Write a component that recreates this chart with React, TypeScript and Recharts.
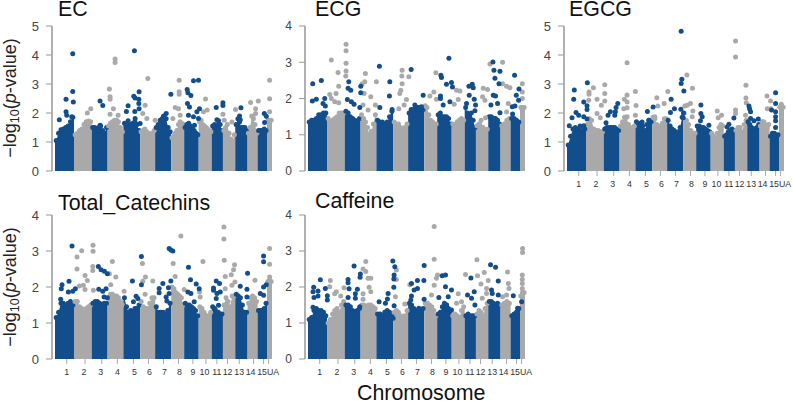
import { Area, ComposedChart, Scatter, XAxis, YAxis } from 'recharts';

const FONT = '"Liberation Sans", Arial, sans-serif';
const BLUE = '#124d8c';
const GRAY = '#a9a9a9';

// genome position runs 0..216.7 across the 16 chromosome blocks
const chromEdges = [0, 19, 36.7, 52.5, 68.3, 85, 100, 116, 129, 143.5, 156.5, 167.7, 180, 192.3, 202.3, 211.7, 216.7];
const chromLabels = ['1', '2', '3', '4', '5', '6', '7', '8', '9', '10', '11', '12', '13', '14', '15', 'UA'];
const chromTicks = [11.7, 30, 46.7, 62.3, 78.3, 93.3, 108.3, 123.3, 137.7, 150.7, 161.7, 172.3, 184, 198.3, 208.3, 213.3];
const labelNudge = [0, -1, -1, 0, 1, 1, 1, 1, 0, -1.5, 0, 0, 0, -3, -1.5, 4.5];

const ticksToFive = [0, 1, 2, 3, 4, 5];
const ticksToFour = [0, 1, 2, 3, 4];

// top of the solid band of points, per chromosome
const ecTops = [
  [1.05, 1.3, 1.42, 1.45, 1.5, 1.55, 1.7, 1.85],
  [1.25, 1.3, 1.4, 1.45, 1.6, 1.7, 1.72, 1.7],
  [1.5, 1.5, 1.45, 1.5, 1.55, 1.4, 1.3, 1.5],
  [1.55, 1.65, 1.7, 1.75, 1.75, 1.7, 1.5, 1.35],
  [1.65, 1.6, 1.6, 1.6, 1.65, 1.7, 1.6, 1.4],
  [1.35, 1.4, 1.45, 1.35, 1.3, 1.25, 1.3, 1.4],
  [1.5, 1.6, 1.75, 1.8, 1.9, 1.8, 1.5, 1.35],
  [1.15, 1.2, 1.3, 1.4, 1.6, 1.7, 1.65, 1.6],
  [1.5, 1.6, 1.65, 1.55, 1.5, 1.4, 1.3, 1.25],
  [1.7, 1.75, 1.6, 1.55, 1.5, 1.45, 1.4, 1.35],
  [1.55, 1.6, 1.5, 1.6, 1.6, 1.4],
  [1.4, 1.5, 1.6, 1.3, 1.1, 1.0, 1.25],
  [1.6, 1.8, 1.7, 1.5, 1.5, 1.5, 1.4],
  [1.3, 1.5, 1.9, 1.8, 1.6, 1.3],
  [1.4, 1.4, 1.4, 1.45, 1.4],
  [1.75, 1.75, 1.75],
];
const ecBlue = [
  [17.7, 4.04], [17.7, 2.74], [11, 2.47], [18.3, 2.38], [4.3, 1.77], [11, 2.04], [11.7, 1.92], [16.7, 1.87],
  [45, 2.41], [47.7, 2.26], [45, 1.58], [79.3, 4.15], [84, 2.73], [78.7, 2.58], [80, 2.52], [83.7, 2.47],
  [83.7, 2.33], [84, 2.15], [73, 2.25], [71.3, 2.05], [79.7, 2.05], [80, 1.81], [73, 1.73], [85, 1.64],
  [115.7, 2.65], [111, 1.98], [108.3, 1.89], [132, 2.81], [132.7, 2.7], [135.7, 2.6], [138.3, 3.11], [143.3, 3.13],
  [132.3, 2.33], [134.3, 2.21], [144.3, 2.15], [141.7, 2.04], [133.3, 1.92], [138.3, 1.87], [143.3, 1.81], [139.3, 1.58],
  [161, 2.19], [167.7, 2.35], [167.7, 2.26], [161.7, 1.77], [163.3, 1.73], [185.7, 2.18], [184.3, 1.9], [185, 1.77],
  [209, 1.98], [211, 1.89], [209.3, 1.67],
];
const ecGray = [
  [60, 3.86], [60, 3.74], [54.3, 2.83], [55, 2.56], [55, 2.47], [58.3, 2.15], [55, 1.96], [63, 1.92],
  [35.7, 2.15], [32.3, 2.0], [92.7, 3.19], [90, 2.27], [87.7, 1.98], [91.7, 1.81], [100, 1.75], [124, 3.13],
  [124, 2.73], [124, 2.65], [120, 2.19], [123.3, 2.15], [117.7, 1.81], [125, 1.92], [150.3, 2.48], [152, 2.1],
  [148.3, 2.04], [167.7, 1.96], [169, 1.75], [176.7, 1.69], [180.3, 2.12], [195.3, 2.36], [203, 2.41], [200.3, 2.15],
  [200.3, 1.98], [197.7, 1.87], [214.3, 3.13], [214.3, 2.49], [214.3, 2.04],
];

const ecgTops = [
  [1.35, 1.4, 1.4, 1.45, 1.55, 1.55, 1.6, 1.6],
  [1.45, 1.35, 1.4, 1.45, 1.5, 1.6, 1.6, 1.6],
  [1.65, 1.6, 1.5, 1.45, 1.4, 1.35, 1.45],
  [1.55, 1.45, 1.35, 1.2, 1.0, 1.1, 1.3, 1.55],
  [1.4, 1.35, 1.35, 1.3, 1.35, 1.5, 1.65],
  [1.35, 1.3, 1.3, 1.2, 1.15, 1.2, 1.3],
  [1.6, 1.7, 1.7, 1.7, 1.75, 1.75, 1.7, 1.7],
  [1.8, 1.75, 1.55, 1.4, 1.35, 1.3, 1.3],
  [1.55, 1.6, 1.5, 1.5, 1.5, 1.45, 1.3],
  [1.3, 1.25, 1.35, 1.4, 1.45, 1.4],
  [1.75, 1.6, 1.55, 1.6, 1.4, 1.2],
  [1.25, 1.3, 1.4, 1.2, 1.1, 1.15],
  [1.5, 1.5, 1.45, 1.45, 1.4, 1.3],
  [1.25, 1.3, 1.4, 1.45],
  [1.45, 1.45, 1.4, 1.35],
  [1.75, 1.75, 1.75],
];
const ecgBlue = [
  [4.7, 2.41], [13.3, 2.5], [4.3, 1.93], [8.3, 1.98], [16.7, 2.0], [15, 1.86], [17.3, 1.79], [40.7, 2.46],
  [40, 2.28], [42.7, 2.23], [39.3, 1.97], [43.3, 1.91], [46, 1.84], [52.7, 2.34], [52.7, 2.16], [51.7, 1.75],
  [71.3, 2.89], [81.7, 2.46], [81.3, 2.07], [71.7, 1.75], [84, 1.7], [103, 2.8], [115, 2.09], [106.7, 1.82],
  [113.3, 1.77], [140.7, 3.11], [132.7, 2.64], [133.3, 2.58], [143.3, 2.44], [138.3, 2.39], [144.3, 2.32], [132.3, 2.07],
  [132.3, 2.0], [141.7, 1.91], [135, 1.82], [160.7, 2.34], [164, 2.39], [165, 2.3], [161, 2.09], [166, 1.98],
  [158.3, 1.86], [167.3, 1.82], [166.7, 1.66], [184.7, 3.01], [185.7, 2.78], [191.7, 2.75], [186.7, 2.56], [190.7, 2.41],
  [185, 2.09], [187.3, 2.07], [189.3, 1.86], [182.7, 1.82], [191.7, 1.61], [206.3, 2.64], [210.7, 2.26], [208, 2.09],
  [210.3, 1.95], [206.7, 1.79], [204, 1.77], [204.3, 1.57],
];
const ecgGray = [
  [23.3, 3.06], [30, 2.72], [30.7, 2.34], [28, 2.14], [21.7, 2.11], [23.3, 2.0], [26.7, 1.91], [30.7, 1.88],
  [38, 3.5], [38, 3.32], [38, 2.97], [38, 2.76], [37.7, 2.62], [57.3, 2.69], [56.7, 2.46], [54, 2.4],
  [56, 2.14], [62.7, 2.05], [68.3, 2.46], [67.3, 1.82], [55, 1.82], [60, 1.68], [94, 2.78], [100.7, 2.6],
  [93.7, 2.62], [94, 2.41], [92.7, 2.23], [91.7, 2.14], [98.3, 1.97], [90.7, 1.72], [96, 1.82], [127.7, 2.71],
  [125.7, 2.18], [121.7, 2.07], [128.3, 1.98], [148.3, 2.23], [151.7, 2.21], [150, 1.97], [146, 1.84], [175, 2.28],
  [179.3, 2.25], [174.3, 2.05], [176.7, 1.95], [177.3, 1.47], [181.7, 2.95], [194.3, 3.0], [194.3, 2.41], [198.3, 2.34],
  [201.7, 2.3], [200, 1.86], [198.3, 1.63], [214, 2.41], [214, 2.18], [214, 2.0],
];

const egcgTops = [
  [0.9, 1.2, 1.45, 1.5, 1.45, 1.55, 1.4, 1.45],
  [1.6, 1.8, 1.75, 1.45, 1.4, 1.4, 1.35, 1.35],
  [1.45, 1.5, 1.5, 1.5, 1.5, 1.5, 1.45, 1.4],
  [1.55, 1.7, 1.85, 1.85, 1.6, 1.5, 1.4, 1.55],
  [1.7, 1.65, 1.6, 1.55, 1.4, 1.6, 1.75, 1.7],
  [1.85, 1.8, 1.6, 1.55, 1.5, 1.65, 1.8, 1.8],
  [1.75, 1.55, 1.45, 1.4, 1.3, 1.35, 1.5, 1.85],
  [2.0, 1.75, 1.6, 1.4, 1.3, 1.3],
  [1.55, 1.55, 1.5, 1.5, 1.45, 1.4, 1.35],
  [1.3, 1.2, 1.1, 1.3, 1.5, 1.6, 1.55],
  [1.2, 1.25, 1.35, 1.4, 1.45, 1.4],
  [1.4, 1.5, 1.5, 1.35, 1.6, 1.75],
  [1.7, 1.6, 1.5, 1.45, 1.45, 1.5, 1.6],
  [1.55, 1.7, 1.7, 1.6, 1.5, 1.6],
  [1.2, 1.3, 1.3, 1.25, 1.25],
  [2.2, 2.2, 2.2],
];
const egcgBlue = [
  [114, 4.82], [114.7, 3.16], [114, 3.02], [116.7, 2.76], [104, 2.47], [107.3, 2.15], [113.7, 2.13], [116.3, 2.0],
  [103.3, 2.02], [116, 1.84], [20.3, 3.04], [7.3, 2.79], [6.7, 2.47], [16.7, 2.38], [20, 2.25], [20, 2.12],
  [9, 2.02], [5, 1.84], [11.7, 1.92], [16.7, 1.87], [2.3, 1.56], [20, 1.79], [16.7, 1.56], [50.7, 2.33],
  [49, 2.19], [48.3, 2.04], [43.3, 2.04], [41, 1.92], [39, 1.66], [47.7, 1.92], [80.3, 2.05], [86, 2.21],
  [81.7, 1.75], [75, 1.69], [133.7, 2.28], [133.7, 1.98], [135, 1.87], [133.3, 1.73], [141.7, 1.58], [161.7, 1.61],
  [166.7, 1.83], [160, 1.52], [181.7, 2.24], [182.3, 2.15], [183.3, 2.04], [183.3, 1.81], [191, 1.79], [186.7, 1.73],
  [208.3, 2.7], [208.3, 2.33], [204.3, 2.1], [208.3, 2.04], [208.3, 1.87], [208.3, 1.73], [208.3, 1.5],
];
const egcgGray = [
  [60, 3.73], [22, 2.65], [22, 2.72], [26.3, 2.87], [21.7, 2.44], [30, 2.47], [34.3, 2.27], [37.7, 2.97],
  [37.7, 2.67], [37.7, 2.41], [30, 1.98], [33.3, 1.84], [60, 2.62], [57.3, 2.47], [60, 2.38], [60, 2.18],
  [56.7, 2.15], [60, 1.87], [68.3, 2.74], [69, 2.26], [68.3, 1.92], [89.7, 2.53], [97, 2.33], [90.7, 2.24],
  [100.7, 2.74], [87.7, 1.87], [119.7, 3.31], [125.3, 2.85], [123.3, 2.33], [120, 2.27], [117.7, 2.24], [125.7, 2.07],
  [125, 1.87], [150, 2.07], [154.3, 1.92], [151, 1.84], [168.3, 4.48], [168.3, 3.93], [168.3, 2.1], [168.3, 1.98],
  [178.7, 2.96], [178.7, 2.52], [179, 2.35], [178.3, 1.92], [199.7, 2.59], [203.3, 2.41], [200, 2.15], [203.3, 2.15],
  [214, 2.3], [214, 2.19], [214, 1.98], [214, 1.64],
];

const totalTops = [
  [1.15, 1.3, 1.55, 1.55, 1.5, 1.55, 1.6, 1.5],
  [1.6, 1.6, 1.45, 1.4, 1.35, 1.4, 1.45, 1.5],
  [1.55, 1.6, 1.6, 1.55, 1.5, 1.55, 1.55],
  [1.7, 1.8, 1.8, 1.75, 1.75, 1.7, 1.6, 1.5],
  [1.7, 1.45, 1.3, 1.35, 1.3, 1.4, 1.4, 1.5],
  [1.6, 1.45, 1.4, 1.4, 1.55, 1.7, 1.7],
  [1.45, 1.3, 1.3, 1.3, 1.25, 1.35, 1.55],
  [2.0, 1.95, 1.85, 1.8, 1.75, 1.7, 1.5],
  [1.55, 1.5, 1.5, 1.45, 1.4, 1.35, 1.2],
  [1.45, 1.4, 1.3, 1.2, 1.2, 1.3],
  [1.45, 1.4, 1.3, 1.3, 1.25, 1.25],
  [1.5, 1.7, 1.6, 1.45, 1.75, 1.75],
  [1.8, 1.75, 1.7, 1.5, 1.3, 1.3],
  [1.55, 1.7, 1.75, 1.7, 1.6],
  [1.35, 1.35, 1.35, 1.4, 1.55],
  [2.15, 2.15, 2.15],
];
const totalBlue = [
  [17, 3.14], [7, 2.06], [6.3, 1.95], [14, 2.16], [13.3, 1.86], [17.7, 1.88], [20.3, 1.95], [5.7, 1.66],
  [43.3, 2.57], [46, 2.48], [49.3, 2.44], [52.3, 2.37], [43.7, 1.94], [47.7, 1.88], [51, 1.95], [49, 1.72],
  [52.3, 1.7], [86.3, 2.85], [77.3, 2.17], [86.3, 2.06], [81, 1.74], [82.7, 1.68], [78.3, 1.59], [114, 3.07],
  [115.7, 3.03], [117.7, 3.0], [115.7, 2.17], [107.7, 2.1], [113.3, 1.98], [104, 1.96], [104, 1.84], [114, 1.82],
  [111, 1.72], [111.7, 1.61], [133.3, 2.55], [135.3, 2.2], [141, 2.08], [144, 1.95], [132.7, 1.86], [135.7, 1.82],
  [139, 1.59], [161, 2.17], [164.3, 2.1], [158.3, 1.97], [158.3, 1.91], [161.7, 1.82], [165, 1.86], [161, 1.68],
  [163.3, 1.49], [160, 1.37], [192.3, 2.38], [185, 2.02], [191.7, 1.94], [191.7, 1.72], [208.3, 2.86], [208.3, 2.7],
  [211, 2.06], [208.3, 2.0], [205, 1.82], [208.3, 1.77], [206.7, 1.35],
];
const totalGray = [
  [38, 3.16], [38, 2.99], [26.7, 3.01], [22, 2.83], [22, 2.5], [30, 2.32], [32.3, 2.18], [37.7, 2.57],
  [37.7, 2.46], [24.3, 2.03], [28.3, 2.05], [30, 1.93], [38.3, 1.91], [57.3, 2.71], [54.3, 2.37], [60.7, 2.28],
  [55.7, 2.06], [69, 1.88], [87.3, 2.65], [90.3, 2.28], [87.7, 2.16], [97.7, 2.17], [90, 1.8], [125.7, 3.42],
  [118, 2.65], [120, 2.29], [129, 1.93], [147.7, 2.71], [144.3, 1.86], [145, 1.72], [168.7, 3.67], [168.7, 3.33],
  [169, 2.74], [170, 2.29], [179.3, 2.62], [178.3, 2.48], [176, 2.34], [179.7, 2.14], [176.7, 2.05], [170, 1.95],
  [199.7, 2.19], [214.3, 3.07], [214.3, 2.63], [214.3, 2.28], [214.3, 2.18],
];

const caffeineTops = [
  [1.1, 1.15, 1.35, 1.4, 1.35, 1.35, 1.3, 1.2],
  [1.0, 1.1, 1.25, 1.35, 1.4, 1.3, 1.5, 1.6],
  [1.5, 1.5, 1.45, 1.35, 1.3, 1.35, 1.4],
  [1.5, 1.5, 1.45, 1.5, 1.5, 1.45, 1.4],
  [1.25, 1.25, 1.2, 1.3, 1.35, 1.3, 1.25],
  [1.3, 1.35, 1.3, 1.2, 1.1, 1.2, 1.35],
  [1.55, 1.5, 1.4, 1.35, 1.3, 1.3, 1.4],
  [1.55, 1.55, 1.5, 1.45, 1.35, 1.2],
  [1.25, 1.3, 1.45, 1.55, 1.5, 1.4, 1.35],
  [1.2, 1.25, 1.2, 1.15, 1.35, 1.45],
  [1.2, 1.25, 1.2, 1.2, 1.2],
  [1.25, 1.35, 1.3, 1.2, 1.4, 1.55],
  [1.6, 1.6, 1.55, 1.5, 1.55, 1.5],
  [1.5, 1.55, 1.6, 1.55],
  [1.2, 1.25, 1.3, 1.4],
  [1.75, 1.85, 1.85],
];
const caffeineBlue = [
  [12.3, 2.2], [5.7, 1.99], [5, 1.87], [10, 1.89], [6, 1.71], [10, 1.75], [17.3, 1.96], [19.3, 1.76],
  [19.3, 1.64], [5, 1.44], [40, 2.21], [40, 2.12], [41, 1.95], [46, 2.58], [40, 1.71], [49.3, 1.94],
  [47.3, 1.81], [47.3, 1.69], [52.3, 2.36], [52, 2.27], [51.7, 1.45], [84.7, 2.72], [86.7, 2.56], [86, 2.33],
  [85.7, 2.22], [85.7, 1.99], [80, 1.82], [71, 1.59], [79.3, 1.67], [77.3, 1.55], [86, 1.48], [85, 1.13],
  [116, 2.6], [109.3, 2.18], [115.7, 2.18], [103.3, 2.1], [109.3, 1.96], [106, 1.92], [103.3, 1.75], [102.7, 1.64],
  [116, 1.66], [110.7, 1.41], [134, 2.31], [137.3, 2.33], [130.7, 1.71], [137.3, 2.01], [143.3, 1.92], [140, 1.73],
  [138.3, 1.5], [143.3, 1.36], [162.7, 2.25], [159.3, 1.78], [166, 1.87], [163.3, 1.69], [166.7, 1.5], [182.3, 2.62],
  [187.3, 2.55], [190, 2.17], [183.3, 1.92], [190, 1.78], [184, 1.82], [205, 1.76], [209.3, 1.41], [213.3, 1.59],
];
const caffeineGray = [
  [126, 3.68], [126, 2.77], [129.3, 2.33], [128.3, 2.24], [126, 2.05], [123.3, 1.78], [214.3, 3.07], [214.3, 2.96],
  [214, 2.33], [214, 2.21], [214, 2.1], [214, 1.96], [57.7, 2.71], [55, 2.5], [57.7, 2.43], [60, 2.24],
  [62.7, 2.24], [61, 1.99], [62.7, 1.87], [55, 1.81], [55, 1.66], [88.3, 2.47], [88.3, 2.21], [87.3, 1.73],
  [96.7, 1.53], [101.7, 2.06], [22.3, 2.18], [21.7, 2.01], [28.3, 1.87], [26.7, 1.81], [36, 1.98], [32.7, 1.75],
  [150, 1.81], [148.3, 1.55], [153.3, 1.59], [157.3, 2.35], [168.7, 2.76], [169.3, 2.31], [176, 2.4], [180, 2.18],
  [172.7, 2.08], [178.3, 1.96], [178.3, 1.82], [174, 1.69], [199.3, 2.42], [200, 2.1], [200.7, 1.96], [198.3, 1.78],
  [194.3, 1.73],
];

type Pair = number[];

const toPoints = (pairs: Pair[]) => pairs.map(([x, y]) => ({ x, y }));

// samples of one chromosome's band, spread across its block
const bandPoints = (tops: number[], chrom: number) => {
  const start = chromEdges[chrom];
  const end = chromEdges[chrom + 1];
  return tops.map((y, i) => ({ x: start + ((i + 0.5) / tops.length) * (end - start), y }));
};

const bandArea = (tops: number[], chrom: number) => [
  { x: chromEdges[chrom], y: tops[0] },
  ...bandPoints(tops, chrom),
  { x: chromEdges[chrom + 1], y: tops[tops.length - 1] },
];

const dot = (color: string) => (p: any) => <circle cx={p.cx} cy={p.cy} r={2.5} fill={color} />;

const yAxisTitle = () => (
  <text transform="translate(16,98) rotate(-90)" textAnchor="middle" fontSize={18} fontFamily={FONT} fill="#222">
    −log
    <tspan fontSize={12.5} dy={3}>10</tspan>
    <tspan dy={-3}>(</tspan>
    <tspan fontStyle="italic">p</tspan>
    -value)
  </text>
);

function ChromTick(props: any) {
  const i = props.index;
  return (
    <text x={props.x + labelNudge[i]} y={props.y + 9} textAnchor="middle" fontSize={8.8} fontFamily={FONT} fill="#333">
      {chromLabels[i]}
    </text>
  );
}

interface PanelProps {
  title: string;
  tops: number[][];
  blue: Pair[];
  gray: Pair[];
  yTicks: number[];
  left: number;
  top: number;
  titleLeft: number;
  titleTop: number;
  tickFont: number;
  bottomHeight: number;
  xLabels?: boolean;
  yTitle?: boolean;
}

function Panel({ title, tops, blue, gray, yTicks, left, top, titleLeft, titleTop, tickFont, bottomHeight, xLabels, yTitle }: PanelProps) {
  return (
    <>
      <div
        style={{
          position: 'absolute',
          left: titleLeft,
          top: titleTop,
          fontFamily: FONT,
          fontSize: 21.4,
          lineHeight: '19px',
          color: '#111',
          whiteSpace: 'nowrap',
        }}
      >
        {title}
      </div>
      <div style={{ position: 'absolute', left, top }}>
        <ComposedChart width={281} height={195} margin={{ top: 26, right: 9, bottom: 0, left: 0 }}>
          <XAxis
            type="number"
            dataKey="x"
            domain={[0, 216.7]}
            ticks={chromTicks}
            interval={0}
            height={bottomHeight}
            padding={{ left: 3, right: 0 }}
            axisLine={false}
            tickLine={{ stroke: '#aaa', strokeWidth: 1 }}
            tickSize={5}
            tick={xLabels ? <ChromTick /> : false as any}
          />
          <YAxis
            type="number"
            dataKey="y"
            domain={[0, yTicks[yTicks.length - 1]]}
            ticks={yTicks}
            interval={0}
            width={52}
            axisLine={{ stroke: '#b0b0b0', strokeWidth: 2 }}
            tickLine={{ stroke: '#999', strokeWidth: 1 }}
            tickSize={6}
            tickMargin={7}
            tick={{ fontSize: tickFont, fontFamily: FONT, fill: '#444' }}
            label={yTitle ? yAxisTitle : undefined}
          />
          {tops.map((t, c) => (
            <Area
              key={`a${c}`}
              data={bandArea(t, c)}
              dataKey="y"
              type="linear"
              stroke="none"
              fill={c % 2 ? GRAY : BLUE}
              fillOpacity={1}
              dot={false}
              activeDot={false}
              isAnimationActive={false}
            />
          ))}
          {tops.map((t, c) => (
            <Scatter
              key={`b${c}`}
              data={bandPoints(t, c)}
              shape={dot(c % 2 ? GRAY : BLUE)}
              isAnimationActive={false}
            />
          ))}
          <Scatter data={toPoints(gray)} shape={dot(GRAY)} isAnimationActive={false} />
          <Scatter data={toPoints(blue)} shape={dot(BLUE)} isAnimationActive={false} />
        </ComposedChart>
      </div>
    </>
  );
}

export default function App() {
  return (
    <div style={{ position: 'absolute', left: 0, top: 0, width: 793, height: 405, overflow: 'hidden', background: '#fff' }}>
      <Panel title="EC" tops={ecTops} blue={ecBlue} gray={ecGray} yTicks={ticksToFive} left={0} top={0} titleLeft={58} titleTop={0} tickFont={13} bottomHeight={24} yTitle />
      <Panel title="ECG" tops={ecgTops} blue={ecgBlue} gray={ecgGray} yTicks={ticksToFour} left={253} top={0} titleLeft={315} titleTop={0} tickFont={12} bottomHeight={24} />
      <Panel title="EGCG" tops={egcgTops} blue={egcgBlue} gray={egcgGray} yTicks={ticksToFive} left={512} top={0} titleLeft={569} titleTop={0} tickFont={13} bottomHeight={24} xLabels />
      <Panel title="Total_Catechins" tops={totalTops} blue={totalBlue} gray={totalGray} yTicks={ticksToFour} left={0} top={189} titleLeft={58} titleTop={194} tickFont={13} bottomHeight={25} xLabels yTitle />
      <Panel title="Caffeine" tops={caffeineTops} blue={caffeineBlue} gray={caffeineGray} yTicks={ticksToFour} left={253} top={189} titleLeft={315} titleTop={192} tickFont={12} bottomHeight={25} xLabels />
      <div style={{ position: 'absolute', left: 357, top: 383, fontFamily: FONT, fontSize: 21.4, lineHeight: '21px', color: '#111' }}>
        Chromosome
      </div>
    </div>
  );
}
